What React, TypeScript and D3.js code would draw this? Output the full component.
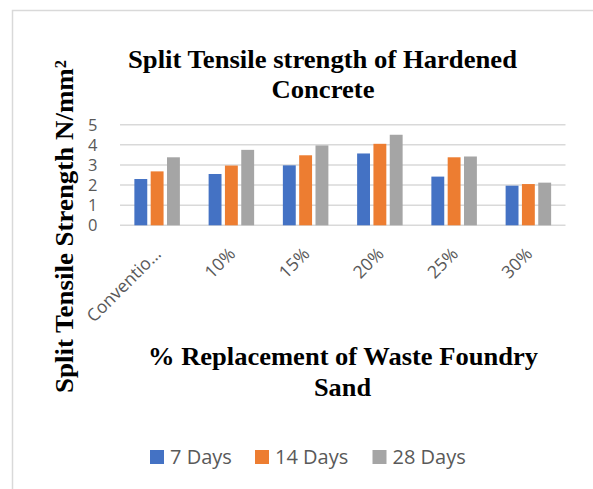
import React from "react";
import * as d3 from "d3";

const categories = ["Conventio…", "10%", "15%", "20%", "25%", "30%"];
const seriesNames = ["7 Days", "14 Days", "28 Days"];
const days7 = [2.3, 2.55, 2.98, 3.57, 2.42, 1.97];
const days14 = [2.68, 2.97, 3.48, 4.05, 3.38, 2.05];
const days28 = [3.38, 3.75, 3.97, 4.5, 3.42, 2.12];
const yTicks = [0, 1, 2, 3, 4, 5];
const colors = ["#4472C4", "#ED7D31", "#A5A5A5"];

const W = 593;
const H = 489;

export default function App() {
  const seriesValues = [days7, days14, days28];
  const x0 = d3.scaleBand<string>().domain(categories).range([120, 565.5]).padding(0);
  const groupW = x0.bandwidth() * 0.613;
  const x1 = d3
    .scaleBand<string>()
    .domain(seriesNames)
    .range([0, groupW])
    .paddingInner(0.21)
    .paddingOuter(0);
  const y = d3.scaleLinear().domain([0, 5]).range([225.3, 124.7]);
  const tickFont = "'Open Sans', sans-serif";
  const serif = "'Liberation Serif', 'Times New Roman', serif";
  const textGray = "#595959";

  const legendX = [150, 255, 372.5];

  return (
    <svg
      width={W}
      height={H}
      style={{ position: "absolute", left: 0, top: 0, background: "#fff" }}
    >
      <rect x={0} y={0} width={W} height={H} fill="#fff" />
      <rect x={12.5} y={10.5} width={620} height={520} fill="none" stroke="#d9d9d9" strokeWidth={1.5} />

      {/* gridlines */}
      {yTicks.map((t) => (
        <line
          key={"g" + t}
          x1={x0.range()[0]}
          x2={x0.range()[1]}
          y1={y(t)}
          y2={y(t)}
          stroke="#d9d9d9"
          strokeWidth={1.5}
        />
      ))}

      {/* y tick labels */}
      {yTicks.map((t) => (
        <text
          key={"yt" + t}
          x={97.5}
          y={y(t)}
          dy="0.36em"
          textAnchor="end"
          fontFamily={tickFont}
          fontSize={16.5}
          fill={textGray}
        >
          {t}
        </text>
      ))}

      {/* bars */}
      {categories.map((c, i) => {
        const gx = (x0(c) as number) + (x0.bandwidth() - groupW) / 2;
        return (
          <g key={c}>
            {seriesNames.map((s, j) => {
              const v = seriesValues[j][i];
              return (
                <rect
                  key={s}
                  x={gx + (x1(s) as number)}
                  y={y(v)}
                  width={x1.bandwidth()}
                  height={y(0) - y(v)}
                  fill={colors[j]}
                />
              );
            })}
          </g>
        );
      })}

      {/* x tick labels */}
      {categories.map((c) => {
        const cx = (x0(c) as number) + x0.bandwidth() / 2;
        return (
          <text
            key={"xt" + c}
            transform={`translate(${cx + 5},${255}) rotate(-45)`}
            textAnchor="end"
            fontFamily={tickFont}
            fontSize={17.5}
            fill={textGray}
          >
            {c}
          </text>
        );
      })}

      {/* chart title */}
      <text
        x={322.5}
        y={67.5}
        textAnchor="middle"
        fontFamily={serif}
        fontWeight="bold"
        fontSize={25}
        textLength={389}
        lengthAdjust="spacingAndGlyphs"
        fill="#000"
      >
        Split Tensile strength of Hardened
      </text>
      <text
        x={323}
        y={97.5}
        textAnchor="middle"
        fontFamily={serif}
        fontWeight="bold"
        fontSize={25}
        textLength={103}
        lengthAdjust="spacingAndGlyphs"
        fill="#000"
      >
        Concrete
      </text>

      {/* y axis title */}
      <text
        transform={`translate(73,393) rotate(-90)`}
        textAnchor="start"
        fontFamily={serif}
        fontWeight="bold"
        fontSize={26}
        textLength={333}
        lengthAdjust="spacingAndGlyphs"
        fill="#000"
      >
        Split Tensile Strength N/mm
        <tspan dy="-0.45em" fontSize={16}>
          2
        </tspan>
      </text>

      {/* x axis title */}
      <text
        x={343}
        y={365}
        textAnchor="middle"
        fontFamily={serif}
        fontWeight="bold"
        fontSize={25}
        textLength={390}
        lengthAdjust="spacingAndGlyphs"
        fill="#000"
      >
        % Replacement of Waste Foundry
      </text>
      <text
        x={342.5}
        y={396}
        textAnchor="middle"
        fontFamily={serif}
        fontWeight="bold"
        fontSize={25}
        textLength={57}
        lengthAdjust="spacingAndGlyphs"
        fill="#000"
      >
        Sand
      </text>

      {/* legend */}
      {seriesNames.map((s, j) => (
        <g key={"lg" + s}>
          <rect x={legendX[j]} y={450} width={14} height={14} fill={colors[j]} />
          <text
            x={legendX[j] + 20}
            y={464}
            fontFamily={tickFont}
            fontSize={20}
            fill={textGray}
          >
            {s}
          </text>
        </g>
      ))}
    </svg>
  );
}
